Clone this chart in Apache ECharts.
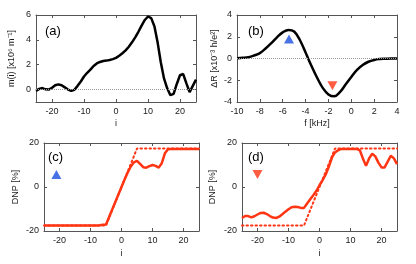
<!DOCTYPE html>
<html>
<head>
<meta charset="utf-8">
<script src="https://cdn.jsdelivr.net/npm/echarts@6/dist/echarts.min.js"></script>
<style>html,body{margin:0;padding:0;background:#fff;}#c{width:416px;height:264px;}</style>
</head>
<body>
<div id="c"></div>
<script>
// ---- Data ----
const iVals = [-25,-24,-23,-22,-21,-20,-19,-18,-17,-16,-15,-14,-13,-12,-11,-10,-9,-8,-7,-6,-5,-4,-3,-2,-1,0,1,2,3,4,5,6,7,8,9,10,11,12,13,14,15,16,17,18,19,20,21,22,23,24,25];
const mVals = [-0.1,0.05,0.12,0.02,0.0,0.15,0.35,0.42,0.35,0.18,0.0,-0.1,-0.02,0.3,0.65,1.05,1.35,1.6,1.9,2.1,2.22,2.3,2.33,2.38,2.45,2.55,2.72,2.92,3.15,3.45,3.8,4.2,4.65,5.15,5.6,5.88,5.75,5.1,3.8,2.2,0.9,0.1,-0.45,-0.35,0.45,1.15,1.25,0.5,-0.2,0.3,0.8];
const fVals = [-10,-9.5,-9,-8.5,-8,-7.5,-7,-6.5,-6,-5.5,-5,-4.5,-4,-3.5,-3,-2.5,-2,-1.5,-1,-0.5,0,0.5,1,1.5,2,2.5,3,3.5,4];
const dRVals = [0.03,0.06,0.12,0.28,0.5,0.92,1.42,1.95,2.4,2.63,2.48,1.7,0.55,-0.65,-1.75,-2.7,-3.3,-3.48,-3.1,-2.4,-1.7,-1.05,-0.6,-0.3,-0.13,-0.05,-0.02,0,0];
const dnpC = [-17.5,-17.5,-17.5,-17.5,-17.5,-17.5,-17.5,-17.5,-17.5,-17.5,-17.5,-17.5,-17.5,-17.5,-17.5,-17.5,-17.5,-17.5,-17.4,-17.2,-17.0,-13.6,-10.2,-6.8,-3.4,0,3.4,6.6,9.3,11.2,11.9,10.5,9.0,8.8,9.5,10.0,9.6,8.8,10.8,15.3,17.2,17.3,17.3,17.3,17.3,17.3,17.3,17.3,17.3,17.3,17.3];
const dnpD = [-14.1,-13.2,-13.2,-13.8,-13.3,-12.5,-11.8,-11.7,-12.3,-13.2,-13.9,-14.1,-13.5,-12.4,-11.2,-10.1,-9.2,-9.0,-9.1,-9.5,-9.5,-7.5,-5.6,-3.7,-1.7,0.8,3.1,5.7,9.2,13.3,15.7,16.7,17.3,17.3,17.3,17.3,17.3,17.3,16.7,13.0,9.6,13.0,15.1,13.9,11.1,8.9,8.9,11.5,14.2,13.0,10.4];
const dnpIdeal = [-17.5,-17.5,-17.5,-17.5,-17.5,-17.5,-17.5,-17.5,-17.5,-17.5,-17.5,-17.5,-17.5,-17.5,-17.5,-17.5,-17.5,-17.5,-17.5,-17.5,-17.5,-14,-10.5,-7,-3.5,0,3.5,7,10.5,14,17.5,17.5,17.5,17.5,17.5,17.5,17.5,17.5,17.5,17.5,17.5,17.5,17.5,17.5,17.5,17.5,17.5,17.5,17.5,17.5,17.5];
const markerB = [[-5.45, 1.8]];   // blue up-triangle in (b)
const markerR = [[-1.65, -2.5]];  // red down-triangle in (b)
const markerC = [[-21, 5.7]];     // blue up-triangle in (c)
const markerD = [[-20, 5.7]];     // red down-triangle in (d)
const iTicks = [-20,-10,0,10,20];
const mTicks = [0,2,4,6];
const fTicks = [-10,-8,-6,-4,-2,0,2,4];
const dRTicks = [-4,-2,0,2,4];
const dnpTicks = [-20,0,20];

const RED = '#ff3514', BLUE = '#1c4fe0', BLACK = '#000';
const FONT = 'Liberation Sans';
const pair = (xs, ys) => xs.map((x, k) => [x, ys[k]]);

const grids = [
  {left:36, top:15, width:160, height:87},
  {left:237, top:15, width:160, height:87},
  {left:44, top:143, width:155, height:88},
  {left:242, top:143, width:155, height:88}
];
const lineCol = '#555';
function axisPair(kind, gi, min, max, ticks, name, nameGap) {
  const base = {
    type:'value', gridIndex:gi, min, max,
    splitLine:{show:false},
    axisLine:{show:true, onZero:false, lineStyle:{color:lineCol, width:1}},
    axisTick:{show:true, inside:true, length:3, customValues:ticks, lineStyle:{color:lineCol}},
  };
  const main = Object.assign({}, base, {
    position: kind==='x' ? 'bottom' : 'left',
    axisLabel:{show:true, customValues:ticks, fontFamily:FONT, fontSize:9, color:'#1a1a1a', margin: kind==='x'?5:5},
    name, nameLocation:'middle', nameGap,
    nameTextStyle:{fontFamily:FONT, fontSize:9, color:'#1a1a1a'}
  });
  const mirror = Object.assign({}, base, {
    position: kind==='x' ? 'top' : 'right',
    axisLabel:{show:false}
  });
  return [main, mirror];
}
const xAxes = [], yAxes = [];
[
  axisPair('x',0,-25,25,iTicks,'i',17),
  axisPair('x',1,-10,4,fTicks,'f [kHz]',17),
  axisPair('x',2,-25,25,iTicks,'i',18),
  axisPair('x',3,-25,25,iTicks,'i',18)
].forEach(p => xAxes.push(...p));
[
  axisPair('y',0,-1,6,mTicks,'m(i) [x10\u2076 m\u207B\u00B9]',20),
  axisPair('y',1,-4,4,dRTicks,'\u0394R [x10\u207B\u00B3 h/e\u00B2]',18),
  axisPair('y',2,-20,20,dnpTicks,'DNP [%]',24),
  axisPair('y',3,-20,20,dnpTicks,'DNP [%]',25)
].forEach(p => yAxes.push(...p));

const zeroLine = (gi) => ({
  type:'line', xAxisIndex:gi*2, yAxisIndex:gi*2, data:[], z:1, silent:true,
  markLine:{silent:true, symbol:['none','none'], label:{show:false},
    lineStyle:{type:'dotted', color:'#999', width:1}, data:[{yAxis:0}]}
});
const lineS = (gi, data, color, width, dotted, z) => ({
  type:'line', xAxisIndex:gi*2, yAxisIndex:gi*2, data, showSymbol:false, symbol:'none',
  lineStyle:{color, width, type: dotted ? [1.5,3] : 'solid', cap: dotted ? 'round':'butt'}, z: z||2, silent:true
});
const marker = (gi, data, color, down) => ({
  type:'scatter', xAxisIndex:gi*2, yAxisIndex:gi*2, data, symbol:'triangle',
  symbolSize:[10,9], symbolRotate: down ? 180 : 0, itemStyle:{color}, z:5, silent:true
});

const series = [
  zeroLine(0),
  lineS(0, pair(iVals, mVals), BLACK, 2.5, false),
  zeroLine(1),
  Object.assign(lineS(1, pair(fVals, dRVals), BLACK, 2.5, false), {smooth:0.4}),
  marker(1, markerB, BLUE, false),
  marker(1, markerR, RED, true),
  lineS(2, pair(iVals, dnpIdeal), RED, 2, true, 2),
  lineS(2, pair(iVals, dnpC), RED, 2.5, false, 3),
  marker(2, markerC, BLUE, false),
  lineS(3, pair(iVals, dnpIdeal), RED, 2, true, 2),
  lineS(3, pair(iVals, dnpD), RED, 2.5, false, 3),
  marker(3, markerD, RED, true)
];

const lbl = (text, x, y) => ({type:'text', left:x, top:y, style:{text, fontFamily:FONT, fontSize:13, fill:'#000'}});

const chart = echarts.init(document.getElementById('c'), null, {renderer:'canvas'});
chart.setOption({
  animation:false,
  backgroundColor:'#fff',
  grid: grids,
  xAxis: xAxes,
  yAxis: yAxes,
  series,
  graphic: [lbl('(a)',45,25), lbl('(b)',248,25), lbl('(c)',48,151), lbl('(d)',248,151)]
});
</script>
</body>
</html>
